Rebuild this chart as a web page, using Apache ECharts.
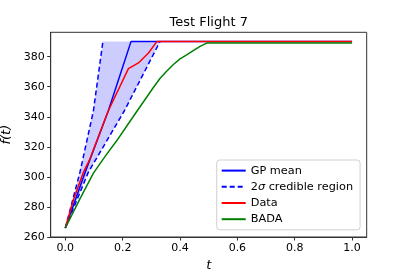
<!DOCTYPE html>
<html>
<head>
<meta charset="utf-8">
<script src="https://cdn.jsdelivr.net/npm/echarts@6/dist/echarts.min.js"></script>
<style>
html,body{margin:0;padding:0;background:#fff;}
#c{width:407px;height:271px;}
</style>
</head>
<body>
<div id="c"></div>
<script>
// ---- data ----
var meanT = [0, 0.069, 0.15, 0.229, 1.0];
var meanY = [266, 303, 344, 390, 390];

var upperT = [0, 0.051, 0.098, 0.131];
var upperY = [266, 303, 344, 390];

var lowerT = [0, 0.08, 0.206, 0.33];
var lowerY = [266, 303, 344, 390];

// band top (upper bound capped at the ceiling)
var bandTopT = [0, 0.051, 0.098, 0.131, 0.33];
var bandTopY = [266, 303, 344, 390, 390];

var dataT = [0, 0.028, 0.063, 0.086, 0.15, 0.22, 0.255, 0.29, 0.319, 1.0];
var dataY = [266, 284.6, 303, 312, 344, 372, 375.8, 382.4, 390, 390];

var badaT = [0, 0.05, 0.098, 0.14, 0.179, 0.215, 0.249, 0.28, 0.307, 0.33, 0.354, 0.377, 0.400, 0.423, 0.446, 0.47, 0.493, 1.0];
var badaY = [266, 285, 302.5, 314, 324, 334, 343.5, 352, 359.5, 365.5, 370.5, 374.8, 378.5, 381.2, 384, 386.8, 389, 389];

var xTicks = [0, 0.2, 0.4, 0.6, 0.8, 1.0];
var yTicks = [260, 280, 300, 320, 340, 360, 380];

function pairs(t, y) { return t.map(function (v, i) { return [v, y[i]]; }); }

var FONT = 'DejaVu Sans';
var chart = echarts.init(document.getElementById('c'), null, {renderer: 'canvas'});

chart.setOption({
  animation: false,
  backgroundColor: '#fff',
  title: {
    text: 'Test Flight 7',
    left: 208.7, textAlign: 'center',
    top: 16, padding: 0,
    textStyle: {fontFamily: FONT, fontSize: 13, fontWeight: 'normal', color: '#000'}
  },
  grid: {
    left: 50.7, right: 40.3, top: 32.3, bottom: 34,
    containLabel: false, outerBoundsMode: 'none',
    show: true, borderColor: '#333', borderWidth: 1, backgroundColor: 'transparent'
  },
  legend: {
    orient: 'vertical',
    left: 216.7, top: 160,
    padding: [5, 7, 5, 4],
    itemWidth: 24, itemHeight: 14, itemGap: 5,
    backgroundColor: 'rgba(255,255,255,0.8)',
    borderColor: '#d0d0d0', borderWidth: 1, borderRadius: 3,
    itemStyle: {opacity: 0},
    data: ['GP mean', '2σ credible region', 'Data', 'BADA'],
    formatter: function (name) {
      if (name === '2σ credible region') return '2{i|σ} credible region';
      return name;
    },
    textStyle: {
      fontFamily: FONT, fontSize: 11.3, color: '#000',
      rich: {i: {fontFamily: FONT, fontSize: 11.3, fontStyle: 'italic', color: '#000'}}
    }
  },
  xAxis: {
    type: 'value', min: -0.051, max: 1.051,
    name: 't', nameLocation: 'middle', nameGap: 20,
    nameTextStyle: {fontFamily: FONT, fontSize: 13, fontStyle: 'italic', color: '#000'},
    axisLine: {show: true, onZero: false, lineStyle: {color: '#333', width: 1}},
    axisTick: {show: true, length: 3.5, inside: false, customValues: xTicks, lineStyle: {color: '#333'}},
    axisLabel: {customValues: xTicks, margin: 6, fontFamily: FONT, fontSize: 11, color: '#000',
      formatter: function (v) { return v.toFixed(1); }},
    splitLine: {show: false}
  },
  yAxis: {
    type: 'value', min: 260, max: 396.2,
    name: 'f(t)', nameLocation: 'middle', nameGap: 28, nameRotate: 90,
    nameTextStyle: {fontFamily: FONT, fontSize: 13, fontStyle: 'italic', color: '#000'},
    axisLine: {show: true, onZero: false, lineStyle: {color: '#333', width: 1}},
    axisTick: {show: true, length: 3.5, inside: false, customValues: yTicks, lineStyle: {color: '#333'}},
    axisLabel: {customValues: yTicks, margin: 6, fontFamily: FONT, fontSize: 11, color: '#000'},
    splitLine: {show: false}
  },
  series: [
    {
      type: 'custom', name: 'band', silent: true, clip: true,
      data: [[0, 266]],
      renderItem: function (params, api) {
        var pts = [];
        for (var i = 0; i < bandTopT.length; i++) pts.push(api.coord([bandTopT[i], bandTopY[i]]));
        for (var j = lowerT.length - 1; j >= 0; j--) pts.push(api.coord([lowerT[j], lowerY[j]]));
        return {type: 'polygon', shape: {points: pts}, style: {fill: 'rgba(0,0,255,0.2)', stroke: null}};
      },
      z: 1
    },
    {
      type: 'line', name: 'GP mean', data: pairs(meanT, meanY),
      showSymbol: false, symbol: 'none', lineStyle: {color: '#0000ff', width: 1.5}, itemStyle: {color: '#0000ff'}, z: 2
    },
    {
      type: 'line', name: '2σ credible region', data: pairs(upperT, upperY),
      showSymbol: false, symbol: 'none', lineStyle: {color: '#0000ff', width: 1.5, type: [5, 3]}, itemStyle: {color: '#0000ff'}, z: 3
    },
    {
      type: 'line', name: '2σ credible region', data: pairs(lowerT, lowerY),
      showSymbol: false, symbol: 'none', lineStyle: {color: '#0000ff', width: 1.5, type: [5, 3]}, itemStyle: {color: '#0000ff'}, z: 3
    },
    {
      type: 'line', name: 'Data', data: pairs(dataT, dataY),
      showSymbol: false, symbol: 'none', lineStyle: {color: '#ff0000', width: 1.5}, itemStyle: {color: '#ff0000'}, z: 4
    },
    {
      type: 'line', name: 'BADA', data: pairs(badaT, badaY),
      showSymbol: false, symbol: 'none', lineStyle: {color: '#008000', width: 1.5}, itemStyle: {color: '#008000'}, z: 5
    }
  ]
});
</script>
</body>
</html>
